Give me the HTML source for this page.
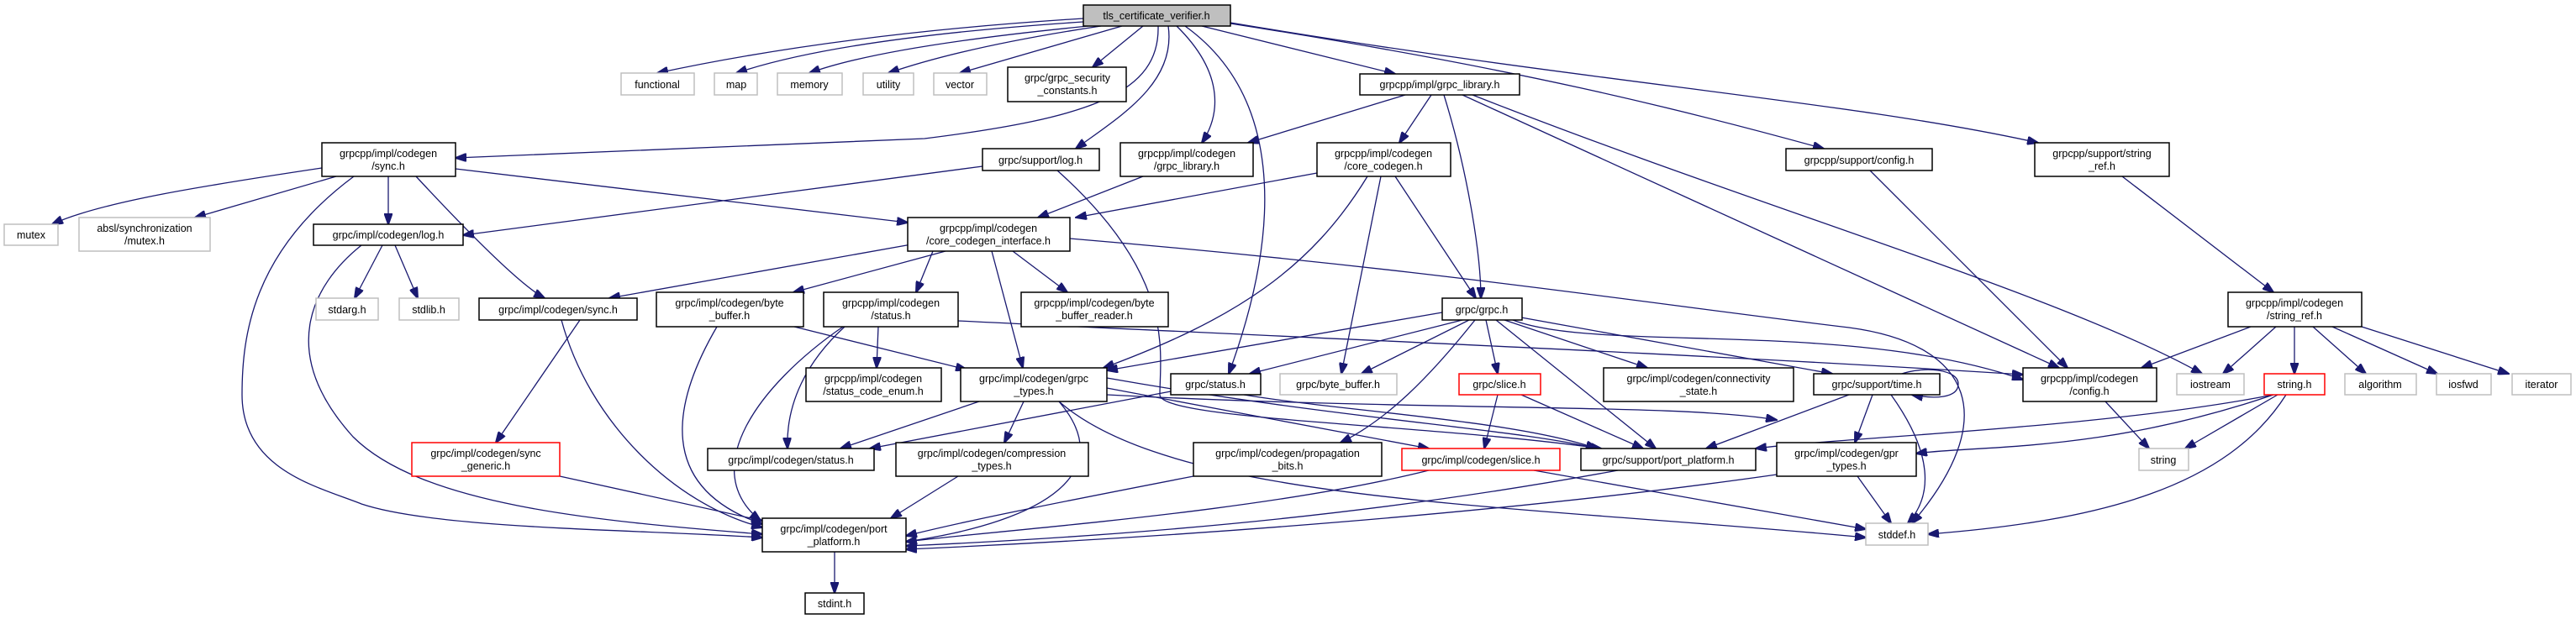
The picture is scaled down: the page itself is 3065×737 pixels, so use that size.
<!DOCTYPE html>
<html><head><meta charset="utf-8"><style>
html,body{margin:0;padding:0;background:#fff;}
svg{display:block;}
text{font-family:"Liberation Sans",sans-serif;font-size:12.5px;fill:#000;text-anchor:middle;}
.b{fill:#fff;stroke:#000;stroke-width:1.5;}
.g{fill:#fff;stroke:#bfbfbf;stroke-width:1.5;}
.r{fill:#fff;stroke:#ff0000;stroke-width:1.5;}
.t{fill:#bfbfbf;stroke:#000;stroke-width:1.5;}
path{fill:none;stroke:#191970;stroke-width:1.3;marker-end:url(#a);}
</style></head><body>
<svg width="3065" height="737" viewBox="0 0 3065 737" xmlns="http://www.w3.org/2000/svg">
<defs><marker id="a" markerUnits="userSpaceOnUse" markerWidth="14" markerHeight="10" refX="13" refY="5" orient="auto"><path d="M0,0 L14,5 L0,10 z" style="fill:#191970;stroke:#191970;marker-end:none"/></marker></defs>

<!-- edges -->
<path d="M1289,22 Q1000,40 782,87"/>
<path d="M1289,26 Q1000,45 876,87"/>
<path d="M1295,31 Q1050,55 963,87"/>
<path d="M1310,31 Q1150,55 1057,87"/>
<path d="M1335,31 L1142,87"/>
<path d="M1360,31 L1300,80"/>
<path d="M1430,31 L1660,88"/>
<path d="M1378,31 C1380,110 1300,140 1100,165 L542,188"/>
<path d="M1390,31 C1400,100 1330,140 1280,177"/>
<path d="M1400,31 C1460,90 1450,140 1430,170"/>
<path d="M1410,31 C1520,110 1530,260 1462,445"/>
<path d="M1464,28 C1800,80 2000,130 2170,177"/>
<path d="M1464,27 C1900,100 2200,120 2425,170"/>
<path d="M1672,113 L1485,170"/>
<path d="M1703,113 L1665,170"/>
<path d="M1718,113 C1745,200 1762,300 1762,355"/>
<path d="M1740,113 L2450,438"/>
<path d="M1752,113 C2100,250 2450,350 2620,445"/>
<path d="M383,200 C250,220 120,240 62,267"/>
<path d="M400,210 L232,259"/>
<path d="M462,210 L462,267"/>
<path d="M495,210 C560,280 620,340 648,355"/>
<path d="M542,201 L1080,265"/>
<path d="M421,210 C300,300 288,400 288,470 C288,560 380,580 430,600 C520,630 750,630 907,640"/>
<path d="M1169,198 L551,280"/>
<path d="M1258,203 C1400,330 1380,420 1380,470 C1380,500 1700,505 1905,534"/>
<path d="M1360,210 L1235,259"/>
<path d="M1567,206 L1280,259"/>
<path d="M1627,210 C1560,320 1470,380 1313,438"/>
<path d="M1643,210 L1596,445"/>
<path d="M1660,210 L1756,355"/>
<path d="M455,292 L422,355"/>
<path d="M470,292 L497,355"/>
<path d="M430,292 C370,340 330,420 420,520 C500,600 700,620 907,636"/>
<path d="M1090,290 L725,355"/>
<path d="M1125,299 L944,348"/>
<path d="M1110,299 L1090,348"/>
<path d="M1180,299 L1217,438"/>
<path d="M1205,299 L1270,348"/>
<path d="M1273,284 C1700,320 1950,360 2200,390 C2350,410 2380,500 2275,623"/>
<path d="M690,381 L590,527"/>
<path d="M668,381 C700,500 800,600 907,628"/>
<path d="M853,389 C800,480 780,580 907,624"/>
<path d="M945,389 L1150,440"/>
<path d="M1005,389 C960,430 935,480 937,534"/>
<path d="M1045,389 L1043,438"/>
<path d="M1003,389 C900,460 830,560 905,620"/>
<path d="M1140,382 C1500,400 2000,420 2407,446"/>
<path d="M1716,372 L1317,441"/>
<path d="M1740,381 L1487,445"/>
<path d="M1748,381 L1620,445"/>
<path d="M1768,381 L1782,445"/>
<path d="M1790,381 L1960,438"/>
<path d="M1810,378 L2180,445"/>
<path d="M1780,381 L1970,534"/>
<path d="M1755,381 C1700,450 1650,500 1595,527"/>
<path d="M1800,381 C1900,420 2200,380 2407,452"/>
<path d="M1218,478 L1195,527"/>
<path d="M1260,478 C1330,560 1250,620 1078,645"/>
<path d="M1317,462 L1700,534"/>
<path d="M1165,478 L1000,534"/>
<path d="M1260,478 C1400,600 1800,600 2220,640"/>
<path d="M1317,450 C1600,500 1800,510 1900,534"/>
<path d="M1317,470 C1700,490 2000,480 2114,500"/>
<path d="M1393,466 L1035,534"/>
<path d="M1480,470 C1600,490 1800,500 1900,534"/>
<path d="M1782,470 L1766,534"/>
<path d="M1810,470 L1955,534"/>
<path d="M2260,446 C2290,435 2330,440 2330,457 C2330,475 2300,475 2275,470"/>
<path d="M2200,470 L2030,534"/>
<path d="M2228,470 L2207,527"/>
<path d="M2250,470 C2300,540 2300,590 2270,623"/>
<path d="M2505,478 L2557,534"/>
<path d="M2678,389 L2548,438"/>
<path d="M2708,389 L2645,445"/>
<path d="M2730,389 L2730,445"/>
<path d="M2752,389 L2815,445"/>
<path d="M2775,389 L2900,445"/>
<path d="M2810,389 L2985,445"/>
<path d="M2705,470 C2500,510 2200,520 2089,534"/>
<path d="M2705,470 C2500,540 2350,530 2280,540"/>
<path d="M2710,470 L2600,534"/>
<path d="M2720,470 C2650,580 2500,620 2294,636"/>
<path d="M666,567 L907,620"/>
<path d="M1140,567 L1060,617"/>
<path d="M1420,567 C1250,600 1150,620 1078,638"/>
<path d="M1700,560 C1500,610 1200,630 1078,645"/>
<path d="M1825,560 L2220,630"/>
<path d="M1925,560 C1600,620 1300,640 1078,650"/>
<path d="M2114,565 C1800,610 1400,640 1078,654"/>
<path d="M2210,567 L2250,623"/>
<path d="M993,657 L993,706"/>
<path d="M2225,203 L2460,438"/>
<path d="M2525,210 L2705,348"/>

<!-- nodes -->
<rect class="t" x="1289" y="6" width="175" height="25"/><text x="1376" y="23">tls_certificate_verifier.h</text>
<rect class="g" x="739" y="87" width="87" height="26"/><text x="782" y="105">functional</text>
<rect class="g" x="850" y="87" width="51" height="26"/><text x="876" y="105">map</text>
<rect class="g" x="925" y="87" width="77" height="26"/><text x="963" y="105">memory</text>
<rect class="g" x="1027" y="87" width="60" height="26"/><text x="1057" y="105">utility</text>
<rect class="g" x="1111" y="87" width="63" height="26"/><text x="1142" y="105">vector</text>
<rect class="b" x="1199" y="80" width="141" height="41"/><text x="1270" y="97">grpc/grpc_security</text><text x="1270" y="112">_constants.h</text>
<rect class="b" x="1618" y="88" width="190" height="25"/><text x="1713" y="105">grpcpp/impl/grpc_library.h</text>
<rect class="b" x="383" y="170" width="159" height="40"/><text x="462" y="187">grpcpp/impl/codegen</text><text x="462" y="202">/sync.h</text>
<rect class="b" x="1169" y="177" width="139" height="26"/><text x="1238" y="195">grpc/support/log.h</text>
<rect class="b" x="1333" y="170" width="158" height="40"/><text x="1412" y="187">grpcpp/impl/codegen</text><text x="1412" y="202">/grpc_library.h</text>
<rect class="b" x="1567" y="170" width="159" height="40"/><text x="1646" y="187">grpcpp/impl/codegen</text><text x="1646" y="202">/core_codegen.h</text>
<rect class="b" x="2125" y="177" width="174" height="26"/><text x="2212" y="195">grpcpp/support/config.h</text>
<rect class="b" x="2421" y="170" width="160" height="40"/><text x="2501" y="187">grpcpp/support/string</text><text x="2501" y="202">_ref.h</text>
<rect class="g" x="5" y="267" width="64" height="25"/><text x="37" y="284">mutex</text>
<rect class="g" x="94" y="259" width="156" height="40"/><text x="172" y="276">absl/synchronization</text><text x="172" y="291">/mutex.h</text>
<rect class="b" x="373" y="267" width="178" height="25"/><text x="462" y="284">grpc/impl/codegen/log.h</text>
<rect class="b" x="1080" y="259" width="193" height="40"/><text x="1176" y="276">grpcpp/impl/codegen</text><text x="1176" y="291">/core_codegen_interface.h</text>
<rect class="g" x="376" y="355" width="74" height="26"/><text x="413" y="373">stdarg.h</text>
<rect class="g" x="475" y="355" width="71" height="26"/><text x="510" y="373">stdlib.h</text>
<rect class="b" x="570" y="355" width="188" height="26"/><text x="664" y="373">grpc/impl/codegen/sync.h</text>
<rect class="b" x="781" y="348" width="175" height="41"/><text x="868" y="365">grpc/impl/codegen/byte</text><text x="868" y="380">_buffer.h</text>
<rect class="b" x="980" y="348" width="160" height="41"/><text x="1060" y="365">grpcpp/impl/codegen</text><text x="1060" y="380">/status.h</text>
<rect class="b" x="1215" y="348" width="175" height="41"/><text x="1302" y="365">grpcpp/impl/codegen/byte</text><text x="1302" y="380">_buffer_reader.h</text>
<rect class="b" x="1716" y="355" width="95" height="26"/><text x="1763" y="373">grpc/grpc.h</text>
<rect class="b" x="2651" y="348" width="159" height="41"/><text x="2730" y="365">grpcpp/impl/codegen</text><text x="2730" y="380">/string_ref.h</text>
<rect class="b" x="959" y="438" width="161" height="40"/><text x="1039" y="455">grpcpp/impl/codegen</text><text x="1039" y="470">/status_code_enum.h</text>
<rect class="b" x="1143" y="438" width="174" height="40"/><text x="1230" y="455">grpc/impl/codegen/grpc</text><text x="1230" y="470">_types.h</text>
<rect class="b" x="1393" y="445" width="107" height="25"/><text x="1446" y="462">grpc/status.h</text>
<rect class="g" x="1523" y="445" width="139" height="25"/><text x="1592" y="462">grpc/byte_buffer.h</text>
<rect class="r" x="1736" y="445" width="97" height="25"/><text x="1784" y="462">grpc/slice.h</text>
<rect class="b" x="1908" y="438" width="226" height="40"/><text x="2021" y="455">grpc/impl/codegen/connectivity</text><text x="2021" y="470">_state.h</text>
<rect class="b" x="2158" y="445" width="150" height="25"/><text x="2233" y="462">grpc/support/time.h</text>
<rect class="b" x="2407" y="438" width="159" height="40"/><text x="2486" y="455">grpcpp/impl/codegen</text><text x="2486" y="470">/config.h</text>
<rect class="g" x="2590" y="445" width="80" height="25"/><text x="2630" y="462">iostream</text>
<rect class="r" x="2694" y="445" width="72" height="25"/><text x="2730" y="462">string.h</text>
<rect class="g" x="2790" y="445" width="85" height="25"/><text x="2832" y="462">algorithm</text>
<rect class="g" x="2899" y="445" width="65" height="25"/><text x="2931" y="462">iosfwd</text>
<rect class="g" x="2989" y="445" width="70" height="25"/><text x="3024" y="462">iterator</text>
<rect class="r" x="490" y="527" width="176" height="40"/><text x="578" y="544">grpc/impl/codegen/sync</text><text x="578" y="559">_generic.h</text>
<rect class="b" x="842" y="534" width="198" height="26"/><text x="941" y="552">grpc/impl/codegen/status.h</text>
<rect class="b" x="1066" y="527" width="229" height="40"/><text x="1180" y="544">grpc/impl/codegen/compression</text><text x="1180" y="559">_types.h</text>
<rect class="b" x="1420" y="527" width="224" height="40"/><text x="1532" y="544">grpc/impl/codegen/propagation</text><text x="1532" y="559">_bits.h</text>
<rect class="r" x="1668" y="534" width="188" height="26"/><text x="1762" y="552">grpc/impl/codegen/slice.h</text>
<rect class="b" x="1881" y="534" width="208" height="26"/><text x="1985" y="552">grpc/support/port_platform.h</text>
<rect class="b" x="2114" y="527" width="166" height="40"/><text x="2197" y="544">grpc/impl/codegen/gpr</text><text x="2197" y="559">_types.h</text>
<rect class="g" x="2545" y="534" width="59" height="26"/><text x="2574" y="552">string</text>
<rect class="b" x="907" y="617" width="171" height="40"/><text x="992" y="634">grpc/impl/codegen/port</text><text x="992" y="649">_platform.h</text>
<rect class="g" x="2220" y="623" width="74" height="26"/><text x="2257" y="641">stddef.h</text>
<rect class="b" x="958" y="706" width="70" height="25"/><text x="993" y="723">stdint.h</text>
</svg>
</body></html>
